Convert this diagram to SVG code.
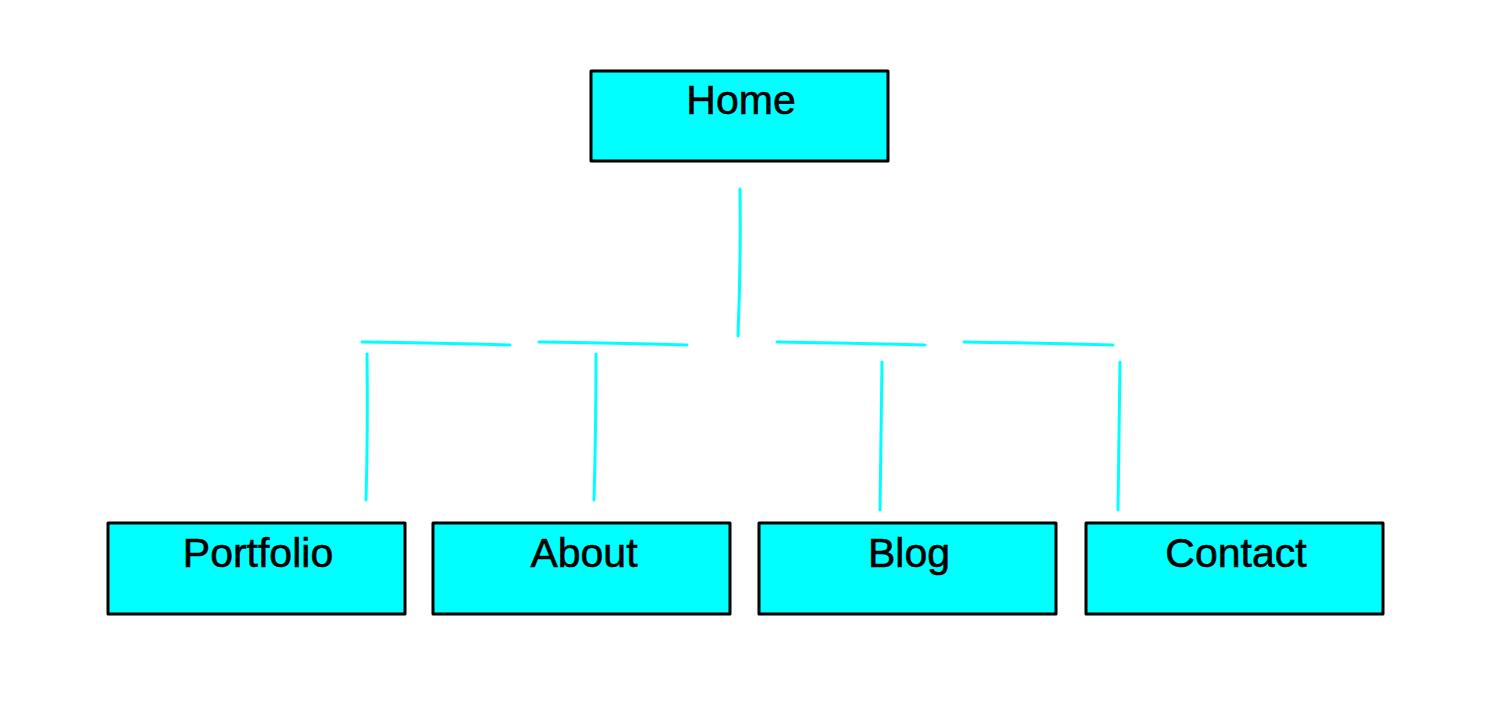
<svg xmlns="http://www.w3.org/2000/svg" width="1501" height="701" viewBox="0 0 1501 701">
<style>
.box{fill:#00ffff;stroke:#000;stroke-width:3;stroke-linejoin:round}
.lbl{font-family:"Liberation Sans",Arial,sans-serif;font-size:41px;fill:#000;stroke:#000;stroke-width:0.6;text-anchor:middle}
.con{fill:none;stroke:#00ffff;stroke-width:3;stroke-linecap:round}
</style>
<rect width="1501" height="701" fill="#fff"/>
<g id="connectors">
<path class="con" d="M740 189 Q741 260 738 336"/>
<path class="con" d="M362 342 Q440 343 510 345"/>
<path class="con" d="M539 342 Q615 343 687 345"/>
<path class="con" d="M777 342 Q850 343 925 345"/>
<path class="con" d="M964 342 Q1040 343 1113 345"/>
<path class="con" d="M367 354 Q368 430 366 500"/>
<path class="con" d="M596 354 Q596 430 594 500"/>
<path class="con" d="M882 362 Q881 440 880 510"/>
<path class="con" d="M1120 362 Q1119 440 1118 510"/>
</g>
<g id="home">
<rect class="box" x="591" y="71" width="297" height="90"/>
<text class="lbl" x="741" y="114">Home</text>
</g>
<g id="portfolio">
<rect class="box" x="108" y="523" width="297" height="91"/>
<text class="lbl" x="258" y="567">Portfolio</text>
</g>
<g id="about">
<rect class="box" x="433" y="523" width="297" height="91"/>
<text class="lbl" x="584" y="567">About</text>
</g>
<g id="blog">
<rect class="box" x="759" y="523" width="297" height="91"/>
<text class="lbl" x="909" y="567">Blog</text>
</g>
<g id="contact">
<rect class="box" x="1086" y="523" width="297" height="91"/>
<text class="lbl" x="1236" y="567">Contact</text>
</g>
</svg>
